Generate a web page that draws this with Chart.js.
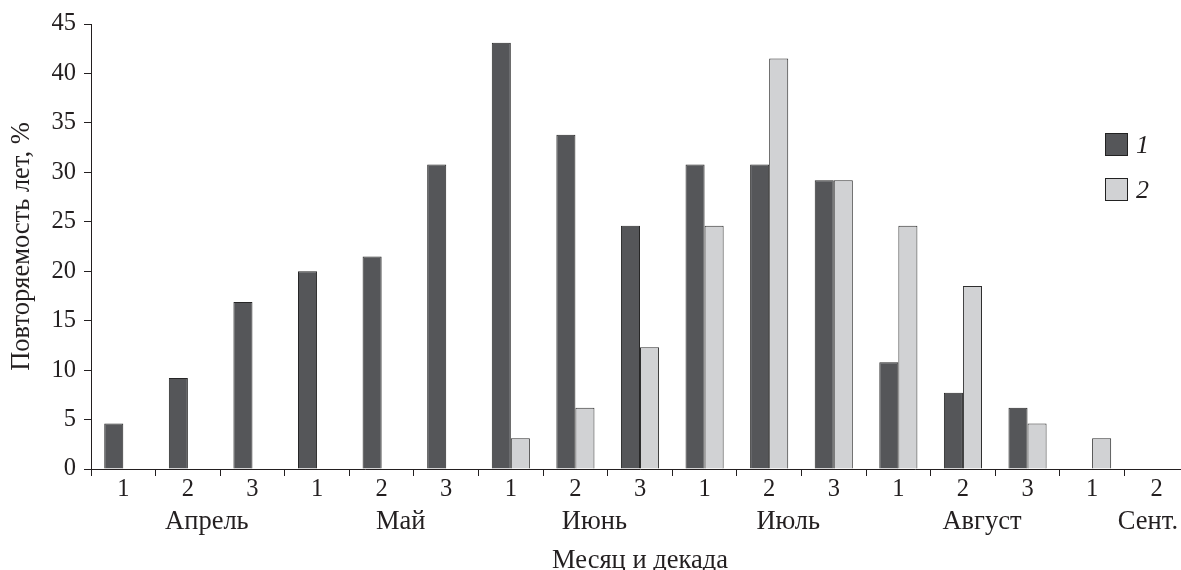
<!DOCTYPE html>
<html>
<head>
<meta charset="utf-8">
<script src="https://cdn.jsdelivr.net/npm/chart.js@4"></script>
<style>
  html, body { margin: 0; padding: 0; background: #fff; overflow: hidden; }
  #wrap { position: relative; width: 1181px; height: 570px; overflow: hidden; }
  #grafico { position: absolute; left: 0; top: 0; }
  #legend { position: absolute; left: 1105px; top: 133px; font: italic 26px "Liberation Serif", serif; color: #231f20; }
  #legend .item { display: flex; align-items: center; height: 23px; margin-bottom: 22px; }
  #legend .box { width: 21px; height: 21px; border: 1px solid #222; margin-right: 8px; }
</style>
</head>
<body>
<div id="wrap">
  <canvas id="grafico" width="1190" height="570"></canvas>
  <div id="legend"></div>
</div>
<script>
// Декады по оси X
const decades = ['1', '2', '3', '1', '2', '3', '1', '2', '3', '1', '2', '3', '1', '2', '3', '1', '2'];
// Названия месяцев и индекс декады, под которой они подписаны
const months = ['Апрель', 'Май', 'Июнь', 'Июль', 'Август', 'Сент.'];
const monthMid = [1, 4, 7, 10, 13, 16];

// Повторяемость лет, %
const series1 = [4.6, 9.2, 16.9, 20.0, 21.5, 30.8, 43.1, 33.8, 24.6, 30.8, 30.8, 29.2, 10.8, 7.7, 6.2, null, null];
const series2 = [null, null, null, null, null, null, 3.1, 6.2, 12.3, 24.6, 41.5, 29.2, 24.6, 18.5, 4.6, 3.1, null];

const yMax = 45;
const yStep = 5;

const ink = '#231f20';
const serif = '"Liberation Serif", "Times New Roman", serif';

// Подписи месяцев под номерами декад
const monthLabels = {
  id: 'monthLabels',
  afterDraw(chart) {
    const ctx = chart.ctx;
    const x = chart.scales.x;
    ctx.save();
    ctx.font = '26.5px ' + serif;
    ctx.fillStyle = ink;
    ctx.textAlign = 'center';
    ctx.textBaseline = 'alphabetic';
    months.forEach((m, i) => {
      const w = ctx.measureText(m).width;
      let cx = x.getPixelForValue(monthMid[i]) + 19;
      cx = Math.min(cx, 1178 - w / 2);
      ctx.fillText(m, cx, 529);
    });
    ctx.restore();
  }
};

var ctx = document.getElementById('grafico').getContext('2d');
var grafico = new Chart(ctx, {
  type: 'bar',
  data: {
    labels: decades,
    datasets: [{
      label: '1',
      data: series1,
      backgroundColor: '#555659',
      borderColor: '#262626',
      borderWidth: 1
    }, {
      label: '2',
      data: series2,
      backgroundColor: '#d1d2d4',
      borderColor: '#2e2e2e',
      borderWidth: 1
    }]
  },
  options: {
    responsive: false,
    animation: false,
    layout: { padding: { top: 24, right: 1, bottom: 0, left: 0 } },
    datasets: { bar: { categoryPercentage: 0.59, barPercentage: 1.0 } },
    plugins: {
      legend: { display: false },
      tooltip: { enabled: false }
    },
    scales: {
      x: {
        grid: { offset: true, drawOnChartArea: false, drawTicks: true, tickLength: 7, color: ink, lineWidth: 1 },
        border: { display: true, color: ink, width: 1 },
        ticks: { color: ink, font: { family: serif, size: 24.5 }, padding: -1, maxRotation: 0, autoSkip: false },
        title: {
          display: true,
          text: 'Месяц и декада',
          color: ink,
          font: { family: serif, size: 26.5, lineHeight: 1 },
          padding: { top: 0, bottom: -4 }
        },
        afterFit(s) { s.height = 101; }
      },
      y: {
        min: 0,
        max: yMax,
        grid: { drawOnChartArea: false, drawTicks: true, tickLength: 7, color: ink, lineWidth: 1 },
        border: { display: true, color: ink, width: 1 },
        ticks: { stepSize: yStep, color: ink, font: { family: serif, size: 24.5 }, padding: 8 },
        title: {
          display: true,
          text: 'Повторяемость лет, %',
          color: ink,
          font: { family: serif, size: 26.5, lineHeight: 1 },
          padding: { top: 9, bottom: 0 }
        },
        afterFit(s) { s.width = 91; }
      }
    }
  },
  plugins: [monthLabels]
});

// Легенда
var legend = document.getElementById('legend');
grafico.data.datasets.forEach(ds => {
  var item = document.createElement('div');
  item.className = 'item';
  var box = document.createElement('span');
  box.className = 'box';
  box.style.background = ds.backgroundColor;
  var txt = document.createElement('span');
  txt.textContent = ds.label;
  item.appendChild(box);
  item.appendChild(txt);
  legend.appendChild(item);
});
</script>
</body>
</html>
